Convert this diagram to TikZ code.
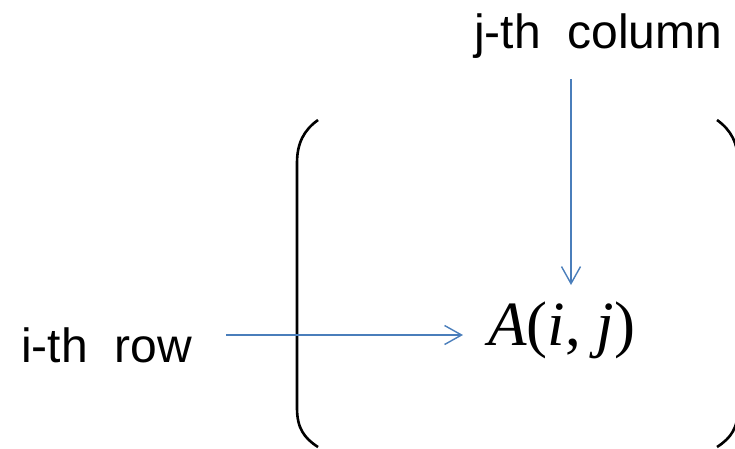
\documentclass[tikz,border=0pt]{standalone}
\usepackage{fontspec}
\setmainfont{Liberation Serif}
\newfontfamily\arialfont{Liberation Sans}
\usetikzlibrary{arrows.meta}
\definecolor{arrowblue}{HTML}{4A7EBB}
\tikzset{
  lbl/.style={inner sep=0pt, anchor=base west, font=\arialfont\fontsize{48}{56}\selectfont},
  ptr/.style={draw=arrowblue, line width=1.4pt, -{Straight Barb[length=17pt,width=19pt,line width=1.4pt]}},
  brk/.style={draw=black, line width=2.6pt},
}
\begin{document}
\begin{tikzpicture}[x=1pt,y=-1pt]
\useasboundingbox (0,0) rectangle (735,448);
% brackets
\draw[brk] (318,120) .. controls (304,130) and (297,143) .. (297,163) -- (297,408) .. controls (297,428) and (304,438) .. (318,447);
\draw[brk] (717,120) .. controls (731,130) and (738,143) .. (738,163) -- (738,408) .. controls (738,428) and (731,438) .. (717,447);
% labels
\node[lbl] (row) at (21,362) {i-th\ \ row};
\node[lbl] (col) at (474,48) {j-th\ \ column};
\node[inner sep=0pt, anchor=base west, font=\fontsize{63}{70}\selectfont] (aij) at (488,345) {\textit{A}(\textit{i}, \textit{j})};
% connectors
\coordinate (hs) at (226,335);
\coordinate (he) at (463,335);
\coordinate (vs) at (571,79);
\coordinate (ve) at (571,285);
\draw[ptr] (hs) -- (he);
\draw[ptr] (vs) -- (ve);
\end{tikzpicture}
\end{document}
